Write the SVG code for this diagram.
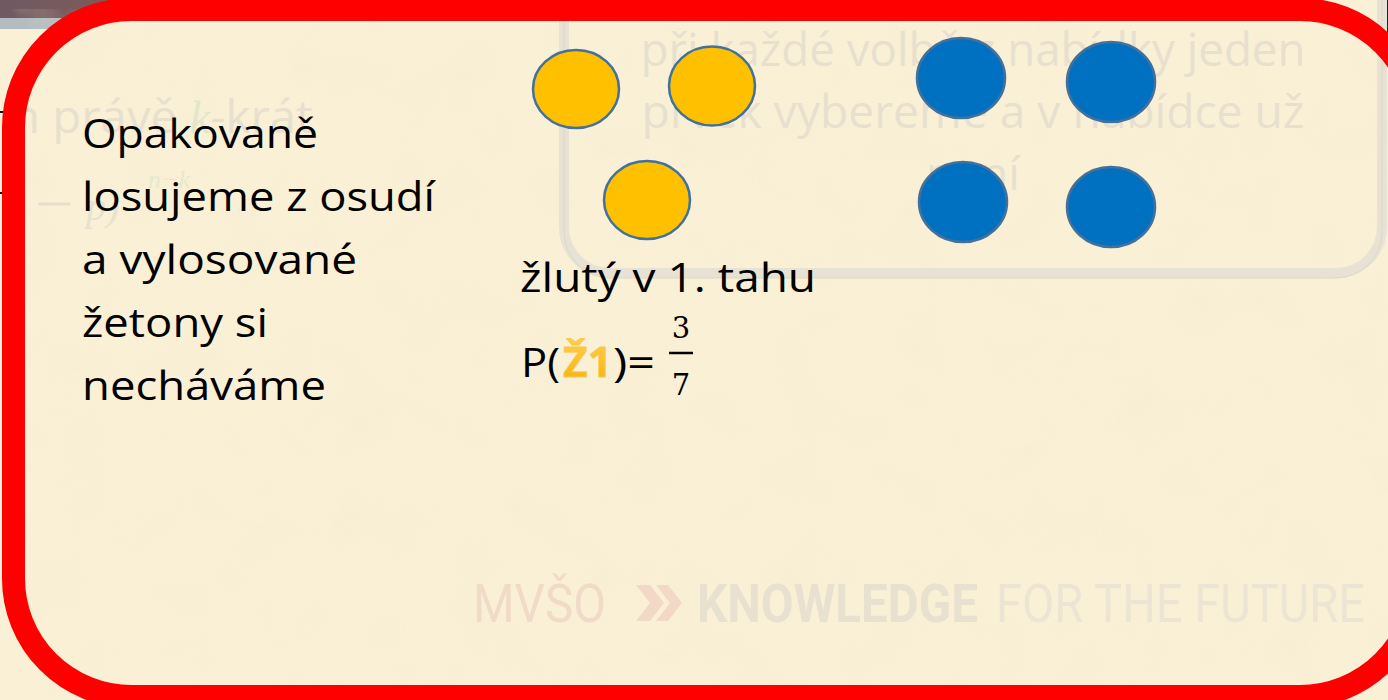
<svg xmlns="http://www.w3.org/2000/svg" width="1388" height="700" viewBox="0 0 1388 700">
<style>
.main{font-family:"Open Sans","Liberation Sans",sans-serif;font-size:41px;fill:#000}
.ghost{font-family:"Open Sans","Liberation Sans",sans-serif;font-size:46px;fill:#e8e0ce}
.foot{font-family:"Roboto","Liberation Sans",sans-serif;font-size:54px}
.yel{fill:#FFC000;stroke:#41719C;stroke-width:2.5}
.blu{fill:#0070C0;stroke:#41719C;stroke-width:2.5}
.frac{font-family:"DejaVu Serif","Liberation Serif",serif;font-size:29px;fill:#000}
</style>
<defs>
<filter id="paper" x="0" y="0" width="100%" height="100%">
<feTurbulence type="fractalNoise" baseFrequency="0.018" numOctaves="4" seed="7" result="n"/>
<feColorMatrix in="n" type="matrix" values="0 0 0 0 0.90  0 0 0 0 0.82  0 0 0 0 0.62  0 0 0 1.6 -0.75"/>
</filter>
<linearGradient id="topband" x1="0" y1="0" x2="1" y2="0">
<stop offset="0" stop-color="#6f5a63"/>
<stop offset="1" stop-color="#8a5a52"/>
</linearGradient>
<linearGradient id="zgrad" x1="0" y1="0" x2="0" y2="1">
<stop offset="0" stop-color="#FFD34D"/>
<stop offset="1" stop-color="#F7AE00"/>
</linearGradient>
</defs>

<!-- background outside frame -->
<rect x="0" y="0" width="1388" height="700" fill="#FAF0D6"/>
<rect x="0" y="0" width="200" height="18" fill="url(#topband)"/>
<rect x="0" y="18" width="200" height="11" fill="#b3bcc0"/>
<rect x="1378" y="0" width="10" height="66" fill="#0c2461"/>
<g stroke="#111" stroke-width="2">
<line x1="0" y1="112" x2="4" y2="112"/>
<line x1="0" y1="193" x2="4" y2="193"/>
</g>

<!-- frame interior -->
<rect x="13.5" y="9.5" width="1404.5" height="687" rx="118" fill="#FAF0D6"/>
<rect x="13.5" y="9.5" width="1404.5" height="687" rx="118" fill="#000" filter="url(#paper)" opacity="0.35"/>

<!-- ghosted background content -->
<g id="ghost-left">
<text class="ghost" x="11" y="133" font-size="48" textLength="302" lengthAdjust="spacingAndGlyphs">n právě <tspan style="fill:#e1e8ca" font-style="italic" font-family="Liberation Serif, serif">k</tspan>-krát</text>
<line x1="38" y1="204" x2="70" y2="204" stroke="#e6dfce" stroke-width="3"/>
<text x="86" y="220" font-family="Liberation Serif, serif" font-style="italic" font-size="40" fill="#e8e1d0">p)</text>
<text x="148" y="188" font-family="Liberation Serif, serif" font-style="italic" font-size="26" fill="#e4eace">n−k</text>
</g>

<g id="ghost-box">
<rect x="564" y="-60" width="818" height="333" rx="46" fill="none" stroke="#e8e2d4" stroke-width="10"/>
<rect x="564" y="-60" width="818" height="333" rx="46" fill="none" stroke="#ddd7c8" stroke-width="1" transform="translate(0,5)"/>
<text class="ghost" x="973" y="66" text-anchor="middle" textLength="665" lengthAdjust="spacingAndGlyphs">při každé volbě z nabídky jeden</text>
<text class="ghost" x="973" y="128" text-anchor="middle" textLength="663" lengthAdjust="spacingAndGlyphs">prvek vybereme a v nabídce už</text>
<text class="ghost" x="973" y="190" text-anchor="middle">není</text>
</g>

<g id="ghost-footer">
<text class="foot" x="473" y="622" fill="#f0dac8" textLength="133" lengthAdjust="spacingAndGlyphs">MVŠO</text>
<polygon points="636,585 650,585 664,603 650,621 636,621 650,603" fill="#f2d8c6"/>
<polygon points="656,585 668,585 682,603 668,621 656,621 670,603" fill="#f2d8c6"/>
<text class="foot" x="697" y="622" fill="#e9e1d0" font-weight="bold" textLength="281" lengthAdjust="spacingAndGlyphs">KNOWLEDGE</text>
<text class="foot" x="996" y="622" fill="#ece5d4" textLength="369" lengthAdjust="spacingAndGlyphs">FOR THE FUTURE</text>
</g>

<!-- tokens -->
<g id="yellow-1"><ellipse class="yel" cx="576" cy="89" rx="43" ry="39"/></g>
<g id="yellow-2"><ellipse class="yel" cx="712" cy="86" rx="43" ry="39.5"/></g>
<g id="yellow-3"><ellipse class="yel" cx="647" cy="200" rx="43" ry="39"/></g>
<g id="blue-1"><ellipse class="blu" cx="961" cy="78" rx="44" ry="40"/></g>
<g id="blue-2"><ellipse class="blu" cx="1111" cy="82" rx="44" ry="40"/></g>
<g id="blue-3"><ellipse class="blu" cx="963" cy="202" rx="44" ry="40"/></g>
<g id="blue-4"><ellipse class="blu" cx="1111" cy="207" rx="44" ry="40"/></g>

<!-- left text -->
<g id="description">
<text class="main" x="82" y="148" textLength="236" lengthAdjust="spacingAndGlyphs">Opakovaně</text>
<text class="main" x="82" y="211" textLength="353" lengthAdjust="spacingAndGlyphs">losujeme z osudí</text>
<text class="main" x="82" y="274" textLength="275" lengthAdjust="spacingAndGlyphs">a vylosované</text>
<text class="main" x="82" y="337" textLength="186" lengthAdjust="spacingAndGlyphs">žetony si</text>
<text class="main" x="82" y="400" textLength="244" lengthAdjust="spacingAndGlyphs">necháváme</text>
</g>

<!-- probability -->
<g id="probability">
<text class="main" x="520" y="292" textLength="296" lengthAdjust="spacingAndGlyphs">žlutý v 1. tahu</text>
<text class="main" x="521" y="377" textLength="39" lengthAdjust="spacingAndGlyphs">P(</text>
<text class="main" x="563" y="377" font-weight="bold" style="fill:url(#zgrad);stroke:#f4c85a;stroke-width:0.8" textLength="49" lengthAdjust="spacingAndGlyphs">Ž1</text>
<text class="main" x="613" y="377" textLength="42" lengthAdjust="spacingAndGlyphs">)=</text>
<text class="frac" x="681" y="338" text-anchor="middle">3</text>
<line x1="669" y1="353" x2="693" y2="353" stroke="#000" stroke-width="2.5"/>
<text class="frac" x="681" y="395" text-anchor="middle">7</text>
</g>

<!-- red frame -->
<g id="frame">
<rect x="13.5" y="9.5" width="1404.5" height="687" rx="118" fill="none" stroke="#FF0000" stroke-width="23"/>
</g>
</svg>
